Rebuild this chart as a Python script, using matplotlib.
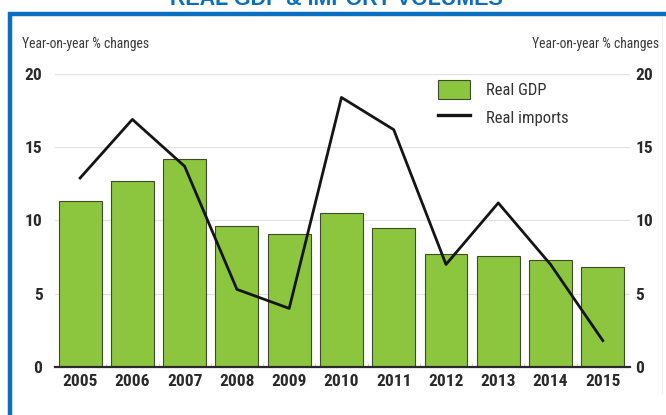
import matplotlib
matplotlib.use("Agg")
import matplotlib.pyplot as plt
from matplotlib.patches import Patch
from matplotlib.lines import Line2D
import numpy as np

plt.rcParams['font.family'] = ['Roboto Condensed', 'DejaVu Sans']

years = ['2005', '2006', '2007', '2008', '2009', '2010', '2011', '2012', '2013', '2014', '2015']
real_gdp = [11.3, 12.7, 14.2, 9.6, 9.1, 10.5, 9.5, 7.7, 7.6, 7.3, 6.8]
real_imports = [12.9, 16.9, 13.7, 5.3, 4.0, 18.4, 16.2, 7.0, 11.2, 7.0, 1.8]
y_ticks = [0, 5, 10, 15, 20]

W, H = 666, 415
fig = plt.figure(figsize=(W / 100, H / 100), dpi=100)

# blue frame: top and left edges
blue = '#0a6fc0'
fig.add_artist(Line2D([8 / W, 1], [1 - 14 / H, 1 - 14 / H], transform=fig.transFigure,
                      color=blue, lw=3.2, solid_capstyle='butt'))
fig.add_artist(Line2D([10 / W, 10 / W], [0, 1 - 12 / H], transform=fig.transFigure,
                      color=blue, lw=3.2, solid_capstyle='butt'))
fig.add_artist(Line2D([662 / W, 662 / W], [0.05, 1 - 16 / H], transform=fig.transFigure,
                      color='#ececec', lw=0.6))

fig.text(336 / W, 1 - 5 / H, 'REAL GDP & IMPORT VOLUMES', ha='center', va='baseline',
         fontsize=15.5, fontweight='bold', color=blue, family=['Liberation Sans', 'DejaVu Sans'])

ax = fig.add_axes([55 / W, 1 - 367 / H, 575 / W, 293 / H])
x = np.arange(len(years))

ax.bar(x, real_gdp, width=0.82, color='#8cc63f', edgecolor='#3e4a2c', linewidth=0.8, zorder=2)
ax.plot(x, real_imports, color='#151515', lw=2.0, zorder=3)

ax.set_xlim(-0.48, 10.52)
ax.set_ylim(0, 20)
ax.set_yticks(y_ticks)
ax.grid(axis='y', color='#e2e2e2', lw=0.9, zorder=0)
ax.set_axisbelow(True)
for s in ['top', 'right', 'left']:
    ax.spines[s].set_visible(False)
ax.spines['bottom'].set_color('#2a2a2a')
ax.spines['bottom'].set_linewidth(1.6)
ax.spines['bottom'].set_zorder(4)

ax.set_xticks(x)
ax.set_xticklabels(years)
ax.set_xticks(x[:-1] + 0.5, minor=True)
ax.tick_params(axis='x', which='major', length=0, pad=5, labelsize=12.5, labelcolor='#2a2a2a')
ax.tick_params(axis='x', which='minor', length=3, direction='in', color='#c8c8c8')
ax.tick_params(axis='y', length=0, pad=9, labelsize=12.5, labelcolor='#2a2a2a')
for lab in ax.get_xticklabels() + ax.get_yticklabels():
    lab.set_fontweight('bold')

ax2 = ax.twinx()
ax2.set_ylim(0, 20)
ax2.set_yticks(y_ticks)
for s in ax2.spines.values():
    s.set_visible(False)
ax2.tick_params(axis='y', length=0, pad=4, labelsize=12.5, labelcolor='#2a2a2a')
for lab in ax2.get_yticklabels():
    lab.set_fontweight('bold')

fig.text(22 / W, 1 - 48 / H, 'Year-on-year % changes', ha='left', va='baseline',
         fontsize=9.8, color='#3a3a3a')
fig.text(659 / W, 1 - 48 / H, 'Year-on-year % changes', ha='right', va='baseline',
         fontsize=9.8, color='#3a3a3a')

handles = [Patch(facecolor='#8cc63f', edgecolor='#3e4a2c', linewidth=0.8),
           Line2D([], [], color='#151515', lw=2.4)]
ax.legend(handles, ['Real GDP', 'Real imports'], loc='upper left',
          bbox_to_anchor=(438 / W, 1 - 80 / H), bbox_transform=fig.transFigure,
          frameon=False, fontsize=12, labelcolor='#333333', borderpad=0, borderaxespad=0,
          handlelength=1.9, handleheight=1.4, handletextpad=0.95, labelspacing=0.5)

fig.savefig('out.png', dpi=100)
